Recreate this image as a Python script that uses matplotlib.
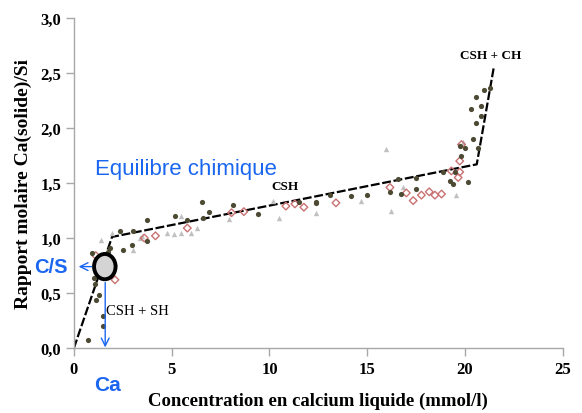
import matplotlib
matplotlib.use("Agg")
import matplotlib.pyplot as plt
from matplotlib.patches import Ellipse

# Series 1: dark filled circles
dots_x = [0.73, 1.5, 1.47, 1.12, 1.29, 1.07, 1.04, 0.95, 1.76, 1.84, 2.52, 2.95, 2.35, 3.0, 3.75, 3.75,
          5.16, 5.76, 6.53, 6.9, 6.6, 8.15, 9.42, 11.52, 12.4, 12.4, 13.1, 14.16, 15.0, 16.16, 16.58,
          16.75, 17.48, 17.5, 18.88, 19.22, 19.36, 19.48, 19.73, 19.99, 20.16, 20.41, 20.64, 20.33,
          20.55, 20.58, 20.84, 20.84, 20.96, 21.3, 19.8]
dots_y = [0.075, 0.2, 0.29, 0.44, 0.48, 0.58, 0.64, 0.86, 0.87, 0.91, 0.89, 0.94, 1.06, 1.06, 1.16, 0.97,
          1.2, 1.16, 1.33, 1.24, 1.18, 1.3, 1.22, 1.33, 1.33, 1.32, 1.39, 1.38, 1.39, 1.42, 1.54,
          1.4, 1.55, 1.45, 1.6, 1.52, 1.49, 1.6, 1.84, 1.82, 1.51, 1.9, 1.82, 2.17,
          2.28, 2.05, 2.2, 2.11, 2.35, 2.36, 1.75]

# Series 2: grey triangles
tri_x = [1.36, 1.93, 3.03, 3.37, 3.5, 4.77, 5.13, 5.5, 5.5, 6.01, 6.31, 7.94, 10.19, 10.5, 12.4,
         14.7, 15.95, 16.24, 16.84, 19.53, 19.9]
tri_y = [0.98, 1.05, 0.89, 1.0, 1.02, 1.05, 1.04, 1.2, 1.05, 1.05, 1.09, 1.17, 1.34, 1.18, 1.23,
         1.34, 1.81, 1.25, 1.46, 1.39, 1.87]

# Series 3: open pink diamonds
dia_x = [1.12, 2.0, 2.1, 3.6, 4.17, 5.8, 8.06, 8.69, 10.84, 11.3, 11.76, 13.4, 16.16, 17.0, 17.35,
         17.77, 18.17, 18.46, 18.8, 19.3, 19.73, 19.73, 19.82, 19.65]
dia_y = [0.84, 0.75, 0.62, 1.0, 1.02, 1.09, 1.23, 1.24, 1.29, 1.31, 1.28, 1.32, 1.46, 1.41, 1.34,
         1.39, 1.42, 1.39, 1.4, 1.61, 1.6, 1.7, 1.85, 1.55]

# Trend line (piecewise)
line_x = [0.0, 1.95, 20.6, 21.47]
line_y = [0.0, 1.01, 1.67, 2.55]

xticks = [0, 5, 10, 15, 20, 25]
yticks = [0.0, 0.5, 1.0, 1.5, 2.0, 2.5, 3.0]
ytick_labels = ["0,0", "0,5", "1,0", "1,5", "2,0", "2,5", "3,0"]

serif = "Liberation Serif"
blue = "#1a66f0"

fig = plt.figure(figsize=(5.82, 4.14), dpi=100)
ax = fig.add_axes([0.127, 0.157, 0.840, 0.797])

ax.plot(line_x, line_y, color="black", lw=1.6, linestyle=(0, (4, 1.2)), zorder=2)
ax.scatter(tri_x, tri_y, marker="^", s=15, color="#c0c0c0", zorder=3, linewidths=0)
ax.scatter(dia_x, dia_y, marker="D", s=15, facecolors="none", edgecolors="#c87272", linewidths=1.0, zorder=3)
ax.scatter(dots_x, dots_y, marker="o", s=14, color="#4d4a33", zorder=4, linewidths=0)

ax.add_patch(Ellipse((1.58, 0.74), width=1.1, height=0.23, facecolor="#d4d4d4",
                     edgecolor="black", lw=2.8, zorder=6))

# Arrows
ax.annotate("", xy=(0.1, 0.74), xytext=(1.05, 0.74),
            arrowprops=dict(arrowstyle="->", color=blue, lw=1.0, mutation_scale=14),
            zorder=7, annotation_clip=False)
ax.annotate("", xy=(1.6, -0.02), xytext=(1.6, 0.62),
            arrowprops=dict(arrowstyle="->", color=blue, lw=1.0, mutation_scale=14),
            zorder=7, annotation_clip=False)

ax.text(-0.3, 0.74, "C/S", color=blue, fontsize=14.5, fontweight="bold",
        family="Liberation Sans", ha="right", va="center")
ax.text(1.7, -0.33, "Ca", color=blue, fontsize=15, fontweight="bold",
        family="Liberation Sans", ha="center", va="center")
ax.text(1.1, 1.63, "Equilibre chimique", color=blue, fontsize=16,
        family="Liberation Sans", ha="left", va="center")

ax.text(10.8, 1.47, "CSH", fontsize=9.5, fontweight="bold", family=serif, ha="center", va="center")
ax.text(21.3, 2.66, "CSH + CH", fontsize=9.5, fontweight="bold", family=serif, ha="center", va="center")
ax.text(1.62, 0.34, "CSH + SH", fontsize=10.5, family=serif, ha="left", va="center")

ax.set_xlim(0, 25)
ax.set_ylim(0, 3.0)
ax.set_xticks(xticks)
ax.set_xticklabels([str(t) for t in xticks])
ax.set_yticks(yticks)
ax.set_yticklabels(ytick_labels)

for s in ["top", "right"]:
    ax.spines[s].set_visible(False)
for s in ["left", "bottom"]:
    ax.spines[s].set_color("#a8a8a8")
    ax.spines[s].set_linewidth(1.0)
ax.tick_params(axis="both", colors="#a8a8a8", length=6, width=1.0, direction="out",
               labelcolor="black", labelsize=12, pad=3)
for lab in ax.get_xticklabels() + ax.get_yticklabels():
    lab.set_family(serif)
    lab.set_fontweight("bold")

ax.set_xlabel("Concentration en calcium liquide (mmol/l)", family=serif, fontweight="bold",
              fontsize=13.5, labelpad=11)
ax.set_ylabel("Rapport molaire Ca(solide)/Si", family=serif, fontweight="bold",
              fontsize=14, labelpad=6)

fig.savefig("out.png", dpi=100)
